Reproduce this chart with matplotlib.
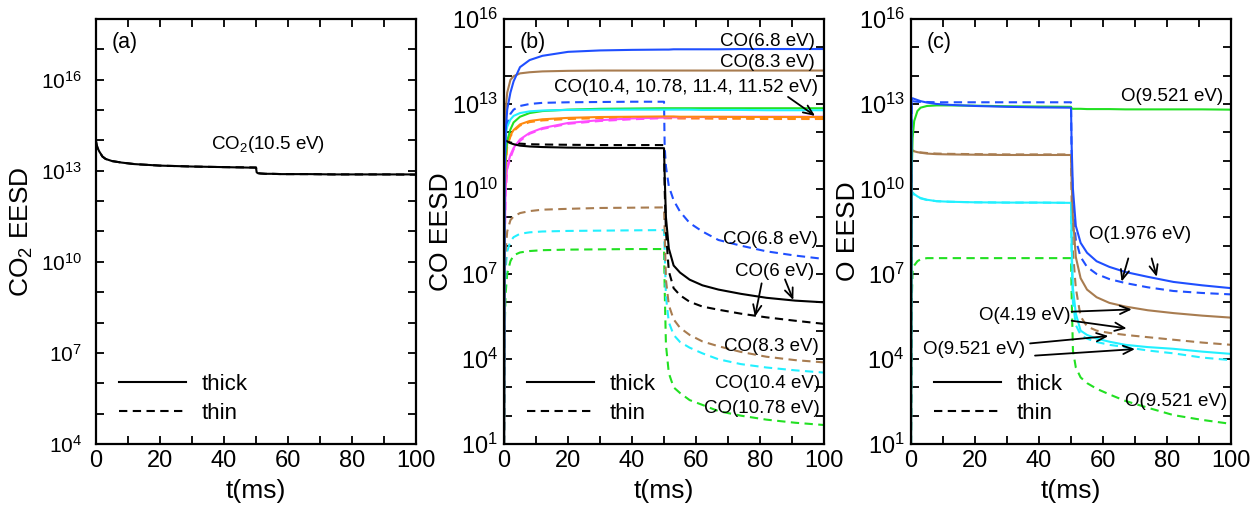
import numpy as np
import matplotlib
matplotlib.use("Agg")
import matplotlib.pyplot as plt
from matplotlib.lines import Line2D
from matplotlib.ticker import FixedLocator, FuncFormatter, MultipleLocator

plt.rcParams['font.family'] = ['Liberation Sans', 'DejaVu Sans']
plt.rcParams['mathtext.fontset'] = 'custom'
plt.rcParams['mathtext.rm'] = 'Liberation Sans'
plt.rcParams['mathtext.it'] = 'Liberation Sans:italic'

# time grid (ms), shared by every curve
t_ms = [0, 0.2, 0.5, 1, 2, 3, 5, 8, 12, 20, 30, 40, 50,
        50.2, 50.6, 51.5, 53, 55, 58, 62, 67, 74, 82, 91, 100]

# all densities are log10(EESD)
# (a) CO2
co2_105_thick = [13.97, 13.85, 13.75, 13.64, 13.47, 13.39, 13.32, 13.27, 13.22, 13.17, 13.14, 13.12, 13.1,
                 12.95, 12.92, 12.91, 12.9, 12.9, 12.89, 12.89, 12.89, 12.88, 12.88, 12.88, 12.88]
co2_105_thin = [13.97, 13.85, 13.75, 13.64, 13.47, 13.39, 13.32, 13.27, 13.22, 13.17, 13.14, 13.12, 13.11,
                12.95, 12.92, 12.91, 12.9, 12.9, 12.89, 12.89, 12.89, 12.88, 12.88, 12.88, 12.87]

# (b) CO
co_68_thick = [1, 10.5, 12.0, 12.8, 13.4, 13.8, 14.3, 14.55, 14.7, 14.84, 14.89, 14.91, 14.92,
               14.92, 14.92, 14.92, 14.93, 14.93, 14.93, 14.93, 14.93, 14.94, 14.94, 14.94, 14.94]
co_83_thick = [1, 11.0, 12.8, 13.4, 13.85, 13.98, 14.08, 14.12, 14.15, 14.17, 14.18, 14.18, 14.18,
               14.18, 14.18, 14.18, 14.18, 14.18, 14.18, 14.18, 14.18, 14.18, 14.18, 14.18, 14.18]
co_104_thick = [1, 11.0, 11.9, 12.2, 12.45, 12.58, 12.68, 12.74, 12.77, 12.79, 12.8, 12.8, 12.8,
                12.8, 12.8, 12.8, 12.8, 12.8, 12.8, 12.79, 12.79, 12.79, 12.78, 12.78, 12.78]
co_1078_thick = [1, 10.0, 11.2, 11.7, 12.1, 12.35, 12.55, 12.68, 12.75, 12.8, 12.83, 12.84, 12.85,
                 12.85, 12.85, 12.85, 12.85, 12.85, 12.85, 12.85, 12.85, 12.85, 12.85, 12.85, 12.85]
co_114_thick = [1, 9.5, 10.9, 11.6, 11.9, 12.08, 12.28, 12.4, 12.46, 12.51, 12.54, 12.55, 12.56,
                12.56, 12.56, 12.56, 12.56, 12.55, 12.55, 12.55, 12.55, 12.54, 12.54, 12.54, 12.54]
co_1152_thick = [1, 8.0, 10.0, 10.8, 11.2, 11.45, 11.75, 11.98, 12.15, 12.33, 12.43, 12.49, 12.52,
                 12.52, 12.52, 12.53, 12.53, 12.53, 12.54, 12.54, 12.54, 12.55, 12.55, 12.55, 12.55]
co_6_thick = [1, 11.72, 11.71, 11.68, 11.62, 11.58, 11.53, 11.5, 11.48, 11.46, 11.45, 11.45, 11.44,
              10.5, 9.0, 7.9, 7.3, 7.05, 6.8, 6.6, 6.45, 6.3, 6.16, 6.06, 6.0]

co_68_thin = [1, 10.5, 11.8, 12.3, 12.65, 12.8, 12.93, 13.0, 13.04, 13.06, 13.07, 13.08, 13.08,
              11.5, 10.8, 10.1, 9.6, 9.2, 8.8, 8.5, 8.2, 8.0, 7.8, 7.65, 7.53]
co_83_thin = [1, 6.5, 7.8, 8.5, 8.9, 9.03, 9.15, 9.22, 9.27, 9.3, 9.33, 9.34, 9.35,
              8.5, 6.8, 5.9, 5.4, 5.1, 4.85, 4.62, 4.45, 4.25, 4.08, 3.96, 3.88]
co_104_thin = [1, 6.0, 7.2, 7.8, 8.15, 8.3, 8.42, 8.47, 8.5, 8.52, 8.53, 8.54, 8.55,
               7.8, 6.2, 5.3, 4.85, 4.6, 4.4, 4.2, 3.99, 3.82, 3.7, 3.6, 3.52]
co_1078_thin = [1, 5.0, 6.3, 7.0, 7.45, 7.66, 7.76, 7.81, 7.84, 7.86, 7.87, 7.88, 7.88,
                6.5, 4.5, 3.5, 3.0, 2.8, 2.55, 2.38, 2.16, 2.0, 1.86, 1.75, 1.67]
co_114_thin = [1, 9.3, 10.8, 11.5, 11.85, 12.04, 12.24, 12.36, 12.42, 12.47, 12.5, 12.51, 12.52,
               12.5, 12.5, 12.5, 12.5, 12.49, 12.49, 12.49, 12.48, 12.48, 12.47, 12.47, 12.47]
co_1152_thin = [1, 7.8, 9.8, 10.7, 11.1, 11.4, 11.7, 11.95, 12.12, 12.3, 12.4, 12.46, 12.5,
                12.5, 12.5, 12.5, 12.5, 12.5, 12.5, 12.5, 12.5, 12.5, 12.5, 12.5, 12.5]
co_6_thin = [1, 11.7, 11.69, 11.67, 11.64, 11.62, 11.6, 11.58, 11.57, 11.56, 11.55, 11.55, 11.55,
             10.0, 8.5, 7.1, 6.5, 6.25, 6.02, 5.85, 5.74, 5.6, 5.47, 5.35, 5.24]

# (c) O
o_1976_thick = [1, 13.2, 13.2, 13.18, 13.14, 13.1, 13.05, 13.0, 12.97, 12.93, 12.9, 12.88, 12.87,
                11.5, 10.0, 8.7, 8.1, 7.75, 7.45, 7.25, 7.07, 6.9, 6.72, 6.6, 6.5]
o_1976_thin = [1, 13.1, 13.1, 13.09, 13.08, 13.07, 13.07, 13.06, 13.06, 13.06, 13.06, 13.06, 13.06,
               11.0, 9.3, 8.2, 7.6, 7.25, 7.0, 6.82, 6.68, 6.53, 6.4, 6.33, 6.28]
o_419_thick = [1, 11.36, 11.35, 11.33, 11.3, 11.28, 11.25, 11.23, 11.22, 11.21, 11.2, 11.2, 11.2,
               10.2, 9.0, 7.6, 6.85, 6.45, 6.18, 5.98, 5.85, 5.72, 5.62, 5.53, 5.46]
o_419_thin = [1, 11.38, 11.36, 11.34, 11.31, 11.29, 11.27, 11.25, 11.24, 11.23, 11.22, 11.22, 11.22,
              9.5, 7.8, 6.5, 5.5, 5.15, 5.0, 4.92, 4.85, 4.77, 4.68, 4.58, 4.5]
o_9521c_thick = [1, 9.9, 9.88, 9.82, 9.74, 9.68, 9.62, 9.57, 9.55, 9.53, 9.52, 9.52, 9.51,
                 8.0, 6.5, 5.6, 5.0, 4.85, 4.72, 4.61, 4.5, 4.42, 4.36, 4.26, 4.18]
o_9521c_thin = [1, 9.88, 9.86, 9.8, 9.73, 9.67, 9.61, 9.57, 9.55, 9.53, 9.52, 9.52, 9.51,
                7.5, 6.0, 5.2, 4.85, 4.72, 4.6, 4.5, 4.42, 4.3, 4.2, 4.05, 3.96]
o_9521g_thick = [1, 10.5, 11.8, 12.4, 12.75, 12.87, 12.93, 12.95, 12.95, 12.94, 12.92, 12.91, 12.9,
                 12.84, 12.83, 12.83, 12.83, 12.82, 12.82, 12.82, 12.81, 12.81, 12.81, 12.81, 12.8]
o_9521g_thin = [1, 6.0, 7.1, 7.3, 7.45, 7.52, 7.56, 7.56, 7.56, 7.56, 7.56, 7.56, 7.56,
                6.2, 4.3, 3.7, 3.35, 3.15, 2.95, 2.75, 2.52, 2.28, 2.02, 1.85, 1.71]

BLUE = '#1f4fff'
BROWN = '#a87c50'
CYAN = '#22f0ff'
GREEN = '#22e022'
ORANGE = '#ff8a10'
MAGENTA = '#ff4cff'

LW = 1.5
DASH = (0, (4, 2.6))


def style_axes(ax, ymin, ymax, ylabel, ysize, ypad, ylabel_x):
    ax.set_yscale('log')
    ax.set_xlim(0, 100)
    ax.set_ylim(10.0 ** ymin, 10.0 ** ymax)
    ax.xaxis.set_major_locator(MultipleLocator(20))
    ax.xaxis.set_minor_locator(MultipleLocator(10))
    ax.yaxis.set_major_locator(FixedLocator([10.0 ** e for e in range(ymin, ymax + 1)]))
    ax.yaxis.set_minor_locator(FixedLocator([]))

    def fmt(v, pos):
        e = int(round(np.log10(v)))
        return r'$\mathregular{10^{%d}}$' % e if e % 3 == 1 else ''

    ax.yaxis.set_major_formatter(FuncFormatter(fmt))
    ax.tick_params(which='both', direction='in', top=True, right=True, length=6, width=1.3)
    ax.tick_params(axis='x', labelsize=17, pad=4)
    ax.tick_params(axis='y', labelsize=ysize, pad=ypad)
    for s in ax.spines.values():
        s.set_linewidth(1.6)
    ax.set_xlabel('t(ms)', fontsize=19, labelpad=5)
    ax.set_ylabel(ylabel, fontsize=19)
    ax.yaxis.set_label_coords(ylabel_x, 0.5)
    handles = [Line2D([], [], color='k', lw=LW), Line2D([], [], color='k', lw=LW, ls=DASH)]
    ax.legend(handles, ['thick', 'thin'], loc='lower left', bbox_to_anchor=(0.01, 0.0),
              frameon=False, fontsize=16, handlelength=3.0, handletextpad=0.7, labelspacing=0.35)


def draw(ax, values, color, dashed=False):
    ax.plot(t_ms, 10.0 ** np.asarray(values), color=color, lw=LW, ls=DASH if dashed else '-')


def arrow(ax, tail, head):
    ax.annotate('', xy=(head[0], 10.0 ** head[1]), xytext=(tail[0], 10.0 ** tail[1]),
                arrowprops=dict(arrowstyle='->,head_length=0.7,head_width=0.3', color='k', lw=1.3,
                                shrinkA=0, shrinkB=0))


def label(ax, x, logy, s, ha='right'):
    ax.text(x, 10.0 ** logy, s, fontsize=13.5, ha=ha, va='center')


fig = plt.figure(figsize=(12.55, 5.13), dpi=100)
ax_a = fig.add_axes([0.0765, 0.1345, 0.255, 0.8285])
ax_b = fig.add_axes([0.4016, 0.1345, 0.255, 0.8285])
ax_c = fig.add_axes([0.7259, 0.1345, 0.255, 0.8285])

# (a)
style_axes(ax_a, 4, 18, r'CO$_2$ EESD', 15, 10, -0.19)
draw(ax_a, co2_105_thick, 'k')
draw(ax_a, co2_105_thin, 'k', dashed=True)
ax_a.text(5, 10.0 ** 17.22, '(a)', fontsize=15.5, va='center')
ax_a.text(53.75, 10.0 ** 13.86, r'CO$_2$(10.5 eV)', fontsize=13.5, ha='center', va='center')

# (b)
style_axes(ax_b, 1, 16, 'CO EESD', 17, 4.5, -0.158)
for vals, col in [(co_1152_thin, MAGENTA), (co_114_thin, ORANGE), (co_1078_thin, GREEN),
                  (co_104_thin, CYAN), (co_83_thin, BROWN), (co_6_thin, 'k'), (co_68_thin, BLUE)]:
    draw(ax_b, vals, col, dashed=True)
for vals, col in [(co_1152_thick, MAGENTA), (co_114_thick, ORANGE), (co_1078_thick, GREEN),
                  (co_104_thick, CYAN), (co_6_thick, 'k'), (co_83_thick, BROWN), (co_68_thick, BLUE)]:
    draw(ax_b, vals, col)
ax_b.text(5, 10.0 ** 15.16, '(b)', fontsize=15.5, va='center')
label(ax_b, 97.2, 15.19, 'CO(6.8 eV)')
label(ax_b, 97.2, 14.45, 'CO(8.3 eV)')
label(ax_b, 98.1, 13.57, 'CO(10.4, 10.78, 11.4, 11.52 eV)')
arrow(ax_b, (88.75, 13.25), (97.2, 12.58))
label(ax_b, 98.0, 8.2, 'CO(6.8 eV)')
label(ax_b, 84.4, 7.08, 'CO(6 eV)', ha='center')
arrow(ax_b, (80.5, 6.67), (78.4, 5.49))
arrow(ax_b, (87.8, 6.81), (90.4, 6.08))
label(ax_b, 98.5, 4.43, 'CO(8.3 eV)')
label(ax_b, 98.75, 3.14, 'CO(10.4 eV)')
label(ax_b, 98.75, 2.26, 'CO(10.78 eV)')

# (c)
style_axes(ax_c, 1, 16, 'O EESD', 17, 4.5, -0.158)
for vals, col in [(o_9521g_thin, GREEN), (o_9521c_thin, CYAN), (o_419_thin, BROWN), (o_1976_thin, BLUE)]:
    draw(ax_c, vals, col, dashed=True)
for vals, col in [(o_9521c_thick, CYAN), (o_419_thick, BROWN), (o_9521g_thick, GREEN), (o_1976_thick, BLUE)]:
    draw(ax_c, vals, col)
ax_c.text(5, 10.0 ** 15.16, '(c)', fontsize=15.5, va='center')
label(ax_c, 97.5, 13.26, 'O(9.521 eV)')
label(ax_c, 71.6, 8.38, 'O(1.976 eV)', ha='center')
arrow(ax_c, (67.9, 7.55), (65.8, 6.73))
arrow(ax_c, (75.2, 7.55), (76.8, 6.9))
label(ax_c, 49.7, 5.55, 'O(4.19 eV)')
arrow(ax_c, (50.2, 5.67), (69.0, 5.75))
arrow(ax_c, (50.2, 5.35), (67.4, 5.08))
label(ax_c, 35.6, 4.32, 'O(9.521 eV)')
arrow(ax_c, (37.2, 4.55), (61.7, 4.81))
arrow(ax_c, (38.75, 4.12), (70.0, 4.35))
label(ax_c, 98.7, 2.49, 'O(9.521 eV)')

fig.savefig('out.png', dpi=100)
